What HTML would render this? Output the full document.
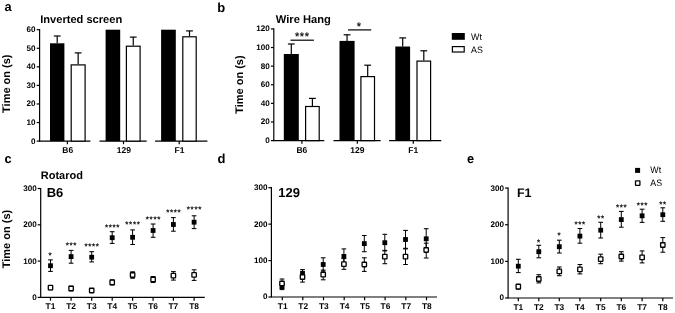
<!DOCTYPE html>
<html><head><meta charset="utf-8"><title>Figure</title>
<style>
html,body{margin:0;padding:0;background:#fff;}
svg{display:block;font-family:"Liberation Sans",Arial,sans-serif;fill:#000;text-rendering:geometricPrecision;}
</style></head>
<body>
<svg width="675" height="313" viewBox="0 0 675 313">
<rect x="0" y="0" width="675" height="313" fill="#fff"/>
<text x="4.60" y="11.20" font-size="12.8" font-weight="bold" text-anchor="start">a</text>
<text x="217.30" y="11.50" font-size="13" font-weight="bold" text-anchor="start">b</text>
<text x="4.60" y="163.00" font-size="12.8" font-weight="bold" text-anchor="start">c</text>
<text x="217.50" y="163.00" font-size="13" font-weight="bold" text-anchor="start">d</text>
<text x="466.90" y="162.90" font-size="12.8" font-weight="bold" text-anchor="start">e</text>
<text x="40.20" y="22.60" font-size="11.1" font-weight="bold" text-anchor="start">Inverted screen</text>
<line x1="39.60" y1="29.10" x2="39.60" y2="141.70" stroke="#000" stroke-width="1.2"/>
<line x1="36.70" y1="141.10" x2="39.60" y2="141.10" stroke="#000" stroke-width="1.2"/>
<text x="35.50" y="143.60" font-size="8.1" font-weight="bold" text-anchor="end">0</text>
<line x1="36.70" y1="122.53" x2="39.60" y2="122.53" stroke="#000" stroke-width="1.2"/>
<text x="35.50" y="125.03" font-size="8.1" font-weight="bold" text-anchor="end">10</text>
<line x1="36.70" y1="103.97" x2="39.60" y2="103.97" stroke="#000" stroke-width="1.2"/>
<text x="35.50" y="106.47" font-size="8.1" font-weight="bold" text-anchor="end">20</text>
<line x1="36.70" y1="85.40" x2="39.60" y2="85.40" stroke="#000" stroke-width="1.2"/>
<text x="35.50" y="87.90" font-size="8.1" font-weight="bold" text-anchor="end">30</text>
<line x1="36.70" y1="66.83" x2="39.60" y2="66.83" stroke="#000" stroke-width="1.2"/>
<text x="35.50" y="69.33" font-size="8.1" font-weight="bold" text-anchor="end">40</text>
<line x1="36.70" y1="48.27" x2="39.60" y2="48.27" stroke="#000" stroke-width="1.2"/>
<text x="35.50" y="50.77" font-size="8.1" font-weight="bold" text-anchor="end">50</text>
<line x1="36.70" y1="29.70" x2="39.60" y2="29.70" stroke="#000" stroke-width="1.2"/>
<text x="35.50" y="32.20" font-size="8.1" font-weight="bold" text-anchor="end">60</text>
<text x="10.30" y="83.70" font-size="11" font-weight="bold" text-anchor="middle" transform="rotate(-90 10.3 83.7)">Time on (s)</text>
<line x1="39.60" y1="141.10" x2="90.40" y2="141.10" stroke="#000" stroke-width="1.2"/>
<line x1="67.40" y1="141.10" x2="67.40" y2="144.20" stroke="#000" stroke-width="1.2"/>
<text x="67.70" y="153.20" font-size="8.5" font-weight="bold" text-anchor="middle">B6</text>
<line x1="99.50" y1="141.10" x2="146.70" y2="141.10" stroke="#000" stroke-width="1.2"/>
<line x1="123.50" y1="141.10" x2="123.50" y2="144.20" stroke="#000" stroke-width="1.2"/>
<text x="123.80" y="153.20" font-size="8.5" font-weight="bold" text-anchor="middle">129</text>
<line x1="155.10" y1="141.10" x2="207.40" y2="141.10" stroke="#000" stroke-width="1.2"/>
<line x1="179.20" y1="141.10" x2="179.20" y2="144.20" stroke="#000" stroke-width="1.2"/>
<text x="179.50" y="153.20" font-size="8.5" font-weight="bold" text-anchor="middle">F1</text>
<line x1="57.20" y1="36.00" x2="57.20" y2="43.30" stroke="#000" stroke-width="1.2"/>
<line x1="53.80" y1="36.00" x2="60.60" y2="36.00" stroke="#000" stroke-width="1.2"/>
<rect x="50.00" y="43.30" width="14.40" height="97.80" fill="#000"/>
<line x1="78.15" y1="52.90" x2="78.15" y2="64.30" stroke="#000" stroke-width="1.2"/>
<line x1="74.75" y1="52.90" x2="81.55" y2="52.90" stroke="#000" stroke-width="1.2"/>
<rect x="71.20" y="64.90" width="13.90" height="76.20" fill="#fff" stroke="#000" stroke-width="1.2"/>
<rect x="105.60" y="29.70" width="14.60" height="111.40" fill="#000"/>
<line x1="133.25" y1="37.10" x2="133.25" y2="45.60" stroke="#000" stroke-width="1.2"/>
<line x1="129.85" y1="37.10" x2="136.65" y2="37.10" stroke="#000" stroke-width="1.2"/>
<rect x="126.40" y="46.20" width="13.70" height="94.90" fill="#fff" stroke="#000" stroke-width="1.2"/>
<rect x="161.10" y="29.70" width="14.70" height="111.40" fill="#000"/>
<line x1="189.50" y1="30.90" x2="189.50" y2="36.20" stroke="#000" stroke-width="1.2"/>
<line x1="186.10" y1="30.90" x2="192.90" y2="30.90" stroke="#000" stroke-width="1.2"/>
<rect x="182.80" y="36.80" width="13.40" height="104.30" fill="#fff" stroke="#000" stroke-width="1.2"/>
<text x="275.80" y="22.60" font-size="11.15" font-weight="bold" text-anchor="start">Wire Hang</text>
<line x1="273.80" y1="28.30" x2="273.80" y2="141.20" stroke="#000" stroke-width="1.2"/>
<line x1="270.90" y1="140.60" x2="273.80" y2="140.60" stroke="#000" stroke-width="1.2"/>
<text x="269.70" y="143.10" font-size="8.1" font-weight="bold" text-anchor="end">0</text>
<line x1="270.90" y1="121.98" x2="273.80" y2="121.98" stroke="#000" stroke-width="1.2"/>
<text x="269.70" y="124.48" font-size="8.1" font-weight="bold" text-anchor="end">20</text>
<line x1="270.90" y1="103.37" x2="273.80" y2="103.37" stroke="#000" stroke-width="1.2"/>
<text x="269.70" y="105.87" font-size="8.1" font-weight="bold" text-anchor="end">40</text>
<line x1="270.90" y1="84.75" x2="273.80" y2="84.75" stroke="#000" stroke-width="1.2"/>
<text x="269.70" y="87.25" font-size="8.1" font-weight="bold" text-anchor="end">60</text>
<line x1="270.90" y1="66.13" x2="273.80" y2="66.13" stroke="#000" stroke-width="1.2"/>
<text x="269.70" y="68.63" font-size="8.1" font-weight="bold" text-anchor="end">80</text>
<line x1="270.90" y1="47.52" x2="273.80" y2="47.52" stroke="#000" stroke-width="1.2"/>
<text x="269.70" y="50.02" font-size="8.1" font-weight="bold" text-anchor="end">100</text>
<line x1="270.90" y1="28.90" x2="273.80" y2="28.90" stroke="#000" stroke-width="1.2"/>
<text x="269.70" y="31.40" font-size="8.1" font-weight="bold" text-anchor="end">120</text>
<text x="242.80" y="84.60" font-size="11" font-weight="bold" text-anchor="middle" transform="rotate(-90 242.8 84.6)">Time on (s)</text>
<line x1="273.80" y1="140.60" x2="324.30" y2="140.60" stroke="#000" stroke-width="1.2"/>
<line x1="301.90" y1="140.60" x2="301.90" y2="143.70" stroke="#000" stroke-width="1.2"/>
<text x="301.90" y="153.20" font-size="8.5" font-weight="bold" text-anchor="middle">B6</text>
<line x1="333.50" y1="140.60" x2="380.70" y2="140.60" stroke="#000" stroke-width="1.2"/>
<line x1="357.30" y1="140.60" x2="357.30" y2="143.70" stroke="#000" stroke-width="1.2"/>
<text x="357.30" y="153.20" font-size="8.5" font-weight="bold" text-anchor="middle">129</text>
<line x1="389.10" y1="140.60" x2="441.20" y2="140.60" stroke="#000" stroke-width="1.2"/>
<line x1="413.30" y1="140.60" x2="413.30" y2="143.70" stroke="#000" stroke-width="1.2"/>
<text x="413.30" y="153.20" font-size="8.5" font-weight="bold" text-anchor="middle">F1</text>
<line x1="291.30" y1="44.00" x2="291.30" y2="54.00" stroke="#000" stroke-width="1.2"/>
<line x1="287.90" y1="44.00" x2="294.70" y2="44.00" stroke="#000" stroke-width="1.2"/>
<rect x="283.80" y="54.00" width="15.00" height="86.60" fill="#000"/>
<line x1="312.40" y1="98.40" x2="312.40" y2="105.90" stroke="#000" stroke-width="1.2"/>
<line x1="309.00" y1="98.40" x2="315.80" y2="98.40" stroke="#000" stroke-width="1.2"/>
<rect x="305.60" y="106.50" width="13.60" height="34.10" fill="#fff" stroke="#000" stroke-width="1.2"/>
<line x1="347.05" y1="34.80" x2="347.05" y2="40.90" stroke="#000" stroke-width="1.2"/>
<line x1="343.65" y1="34.80" x2="350.45" y2="34.80" stroke="#000" stroke-width="1.2"/>
<rect x="339.50" y="40.90" width="15.10" height="99.70" fill="#000"/>
<line x1="367.70" y1="65.20" x2="367.70" y2="76.00" stroke="#000" stroke-width="1.2"/>
<line x1="364.30" y1="65.20" x2="371.10" y2="65.20" stroke="#000" stroke-width="1.2"/>
<rect x="360.90" y="76.60" width="13.60" height="64.00" fill="#fff" stroke="#000" stroke-width="1.2"/>
<line x1="402.70" y1="37.90" x2="402.70" y2="46.50" stroke="#000" stroke-width="1.2"/>
<line x1="399.30" y1="37.90" x2="406.10" y2="37.90" stroke="#000" stroke-width="1.2"/>
<rect x="395.30" y="46.50" width="14.80" height="94.10" fill="#000"/>
<line x1="423.80" y1="50.80" x2="423.80" y2="60.50" stroke="#000" stroke-width="1.2"/>
<line x1="420.40" y1="50.80" x2="427.20" y2="50.80" stroke="#000" stroke-width="1.2"/>
<rect x="417.00" y="61.10" width="13.60" height="79.50" fill="#fff" stroke="#000" stroke-width="1.2"/>
<line x1="290.50" y1="40.20" x2="313.90" y2="40.20" stroke="#000" stroke-width="1.2"/>
<text x="302.30" y="39.80" font-size="11" text-anchor="middle" letter-spacing="0.6" stroke="#000" stroke-width="0.2">***</text>
<line x1="348.10" y1="29.90" x2="371.20" y2="29.90" stroke="#000" stroke-width="1.2"/>
<text x="358.90" y="29.50" font-size="11" text-anchor="middle" stroke="#000" stroke-width="0.2">*</text>
<rect x="451.80" y="33.00" width="13.00" height="6.80" fill="#000"/>
<rect x="452.40" y="46.60" width="11.80" height="5.40" fill="#fff" stroke="#000" stroke-width="1.2"/>
<text transform="translate(471.1,39.9) scale(0.95,1)" font-size="9.3">Wt</text>
<text transform="translate(471.1,52.6) scale(0.95,1)" font-size="9.3">AS</text>
<line x1="40.70" y1="187.90" x2="40.70" y2="298.00" stroke="#000" stroke-width="1.2"/>
<line x1="40.70" y1="297.40" x2="204.80" y2="297.40" stroke="#000" stroke-width="1.2"/>
<line x1="37.70" y1="297.40" x2="40.70" y2="297.40" stroke="#000" stroke-width="1.2"/>
<text x="36.70" y="299.80" font-size="8.1" font-weight="bold" text-anchor="end">0</text>
<line x1="37.70" y1="261.10" x2="40.70" y2="261.10" stroke="#000" stroke-width="1.2"/>
<text x="36.70" y="263.50" font-size="8.1" font-weight="bold" text-anchor="end">100</text>
<line x1="37.70" y1="224.80" x2="40.70" y2="224.80" stroke="#000" stroke-width="1.2"/>
<text x="36.70" y="227.20" font-size="8.1" font-weight="bold" text-anchor="end">200</text>
<line x1="37.70" y1="188.50" x2="40.70" y2="188.50" stroke="#000" stroke-width="1.2"/>
<text x="36.70" y="190.90" font-size="8.1" font-weight="bold" text-anchor="end">300</text>
<line x1="50.50" y1="297.40" x2="50.50" y2="300.70" stroke="#000" stroke-width="1.2"/>
<text x="50.50" y="309.30" font-size="8.4" font-weight="bold" text-anchor="middle">T1</text>
<line x1="71.10" y1="297.40" x2="71.10" y2="300.70" stroke="#000" stroke-width="1.2"/>
<text x="71.10" y="309.30" font-size="8.4" font-weight="bold" text-anchor="middle">T2</text>
<line x1="91.70" y1="297.40" x2="91.70" y2="300.70" stroke="#000" stroke-width="1.2"/>
<text x="91.70" y="309.30" font-size="8.4" font-weight="bold" text-anchor="middle">T3</text>
<line x1="112.20" y1="297.40" x2="112.20" y2="300.70" stroke="#000" stroke-width="1.2"/>
<text x="112.20" y="309.30" font-size="8.4" font-weight="bold" text-anchor="middle">T4</text>
<line x1="132.60" y1="297.40" x2="132.60" y2="300.70" stroke="#000" stroke-width="1.2"/>
<text x="132.60" y="309.30" font-size="8.4" font-weight="bold" text-anchor="middle">T5</text>
<line x1="153.10" y1="297.40" x2="153.10" y2="300.70" stroke="#000" stroke-width="1.2"/>
<text x="153.10" y="309.30" font-size="8.4" font-weight="bold" text-anchor="middle">T6</text>
<line x1="173.40" y1="297.40" x2="173.40" y2="300.70" stroke="#000" stroke-width="1.2"/>
<text x="173.40" y="309.30" font-size="8.4" font-weight="bold" text-anchor="middle">T7</text>
<line x1="194.10" y1="297.40" x2="194.10" y2="300.70" stroke="#000" stroke-width="1.2"/>
<text x="194.10" y="309.30" font-size="8.4" font-weight="bold" text-anchor="middle">T8</text>
<text x="46.70" y="196.80" font-size="13" font-weight="bold" text-anchor="start">B6</text>
<text x="40.80" y="178.70" font-size="11" font-weight="bold" text-anchor="start">Rotarod</text>
<text x="10.10" y="239.00" font-size="11" font-weight="bold" text-anchor="middle" transform="rotate(-90 10.1 239)">Time on (s)</text>
<line x1="50.50" y1="259.90" x2="50.50" y2="271.40" stroke="#000" stroke-width="1.0"/>
<line x1="48.15" y1="259.90" x2="52.85" y2="259.90" stroke="#000" stroke-width="1.05"/>
<line x1="48.15" y1="271.40" x2="52.85" y2="271.40" stroke="#000" stroke-width="1.05"/>
<rect x="48.10" y="263.30" width="4.80" height="4.80" fill="#000"/>
<line x1="71.10" y1="250.40" x2="71.10" y2="263.20" stroke="#000" stroke-width="1.0"/>
<line x1="68.75" y1="250.40" x2="73.45" y2="250.40" stroke="#000" stroke-width="1.05"/>
<line x1="68.75" y1="263.20" x2="73.45" y2="263.20" stroke="#000" stroke-width="1.05"/>
<rect x="68.70" y="254.20" width="4.80" height="4.80" fill="#000"/>
<line x1="91.70" y1="251.70" x2="91.70" y2="261.90" stroke="#000" stroke-width="1.0"/>
<line x1="89.35" y1="251.70" x2="94.05" y2="251.70" stroke="#000" stroke-width="1.05"/>
<line x1="89.35" y1="261.90" x2="94.05" y2="261.90" stroke="#000" stroke-width="1.05"/>
<rect x="89.30" y="254.80" width="4.80" height="4.80" fill="#000"/>
<line x1="112.20" y1="231.70" x2="112.20" y2="243.40" stroke="#000" stroke-width="1.0"/>
<line x1="109.85" y1="231.70" x2="114.55" y2="231.70" stroke="#000" stroke-width="1.05"/>
<line x1="109.85" y1="243.40" x2="114.55" y2="243.40" stroke="#000" stroke-width="1.05"/>
<rect x="109.80" y="235.30" width="4.80" height="4.80" fill="#000"/>
<line x1="132.60" y1="229.90" x2="132.60" y2="244.50" stroke="#000" stroke-width="1.0"/>
<line x1="130.25" y1="229.90" x2="134.95" y2="229.90" stroke="#000" stroke-width="1.05"/>
<line x1="130.25" y1="244.50" x2="134.95" y2="244.50" stroke="#000" stroke-width="1.05"/>
<rect x="130.20" y="234.90" width="4.80" height="4.80" fill="#000"/>
<line x1="153.10" y1="224.00" x2="153.10" y2="237.30" stroke="#000" stroke-width="1.0"/>
<line x1="150.75" y1="224.00" x2="155.45" y2="224.00" stroke="#000" stroke-width="1.05"/>
<line x1="150.75" y1="237.30" x2="155.45" y2="237.30" stroke="#000" stroke-width="1.05"/>
<rect x="150.70" y="228.10" width="4.80" height="4.80" fill="#000"/>
<line x1="173.40" y1="217.60" x2="173.40" y2="231.20" stroke="#000" stroke-width="1.0"/>
<line x1="171.05" y1="217.60" x2="175.75" y2="217.60" stroke="#000" stroke-width="1.05"/>
<line x1="171.05" y1="231.20" x2="175.75" y2="231.20" stroke="#000" stroke-width="1.05"/>
<rect x="171.00" y="222.10" width="4.80" height="4.80" fill="#000"/>
<line x1="194.10" y1="215.80" x2="194.10" y2="228.60" stroke="#000" stroke-width="1.0"/>
<line x1="191.75" y1="215.80" x2="196.45" y2="215.80" stroke="#000" stroke-width="1.05"/>
<line x1="191.75" y1="228.60" x2="196.45" y2="228.60" stroke="#000" stroke-width="1.05"/>
<rect x="191.70" y="219.80" width="4.80" height="4.80" fill="#000"/>
<line x1="50.50" y1="285.70" x2="50.50" y2="289.70" stroke="#000" stroke-width="1.0"/>
<line x1="48.15" y1="285.70" x2="52.85" y2="285.70" stroke="#000" stroke-width="1.05"/>
<line x1="48.15" y1="289.70" x2="52.85" y2="289.70" stroke="#000" stroke-width="1.05"/>
<rect x="48.30" y="285.45" width="4.4" height="4.5" rx="0.4" fill="#fff" stroke="#000" stroke-width="1.3"/>
<line x1="71.10" y1="286.30" x2="71.10" y2="290.70" stroke="#000" stroke-width="1.0"/>
<line x1="68.75" y1="286.30" x2="73.45" y2="286.30" stroke="#000" stroke-width="1.05"/>
<line x1="68.75" y1="290.70" x2="73.45" y2="290.70" stroke="#000" stroke-width="1.05"/>
<rect x="68.90" y="286.25" width="4.4" height="4.5" rx="0.4" fill="#fff" stroke="#000" stroke-width="1.3"/>
<line x1="91.70" y1="289.50" x2="91.70" y2="291.50" stroke="#000" stroke-width="1.0"/>
<line x1="89.35" y1="289.50" x2="94.05" y2="289.50" stroke="#000" stroke-width="1.05"/>
<line x1="89.35" y1="291.50" x2="94.05" y2="291.50" stroke="#000" stroke-width="1.05"/>
<rect x="89.50" y="288.25" width="4.4" height="4.5" rx="0.4" fill="#fff" stroke="#000" stroke-width="1.3"/>
<line x1="112.20" y1="279.80" x2="112.20" y2="285.00" stroke="#000" stroke-width="1.0"/>
<line x1="109.85" y1="279.80" x2="114.55" y2="279.80" stroke="#000" stroke-width="1.05"/>
<line x1="109.85" y1="285.00" x2="114.55" y2="285.00" stroke="#000" stroke-width="1.05"/>
<rect x="110.00" y="280.15" width="4.4" height="4.5" rx="0.4" fill="#fff" stroke="#000" stroke-width="1.3"/>
<line x1="132.60" y1="271.80" x2="132.60" y2="278.20" stroke="#000" stroke-width="1.0"/>
<line x1="130.25" y1="271.80" x2="134.95" y2="271.80" stroke="#000" stroke-width="1.05"/>
<line x1="130.25" y1="278.20" x2="134.95" y2="278.20" stroke="#000" stroke-width="1.05"/>
<rect x="130.40" y="272.75" width="4.4" height="4.5" rx="0.4" fill="#fff" stroke="#000" stroke-width="1.3"/>
<line x1="153.10" y1="276.50" x2="153.10" y2="282.50" stroke="#000" stroke-width="1.0"/>
<line x1="150.75" y1="276.50" x2="155.45" y2="276.50" stroke="#000" stroke-width="1.05"/>
<line x1="150.75" y1="282.50" x2="155.45" y2="282.50" stroke="#000" stroke-width="1.05"/>
<rect x="150.90" y="277.25" width="4.4" height="4.5" rx="0.4" fill="#fff" stroke="#000" stroke-width="1.3"/>
<line x1="173.40" y1="271.60" x2="173.40" y2="280.10" stroke="#000" stroke-width="1.0"/>
<line x1="171.05" y1="271.60" x2="175.75" y2="271.60" stroke="#000" stroke-width="1.05"/>
<line x1="171.05" y1="280.10" x2="175.75" y2="280.10" stroke="#000" stroke-width="1.05"/>
<rect x="171.20" y="273.45" width="4.4" height="4.5" rx="0.4" fill="#fff" stroke="#000" stroke-width="1.3"/>
<line x1="194.10" y1="269.80" x2="194.10" y2="280.40" stroke="#000" stroke-width="1.0"/>
<line x1="191.75" y1="269.80" x2="196.45" y2="269.80" stroke="#000" stroke-width="1.05"/>
<line x1="191.75" y1="280.40" x2="196.45" y2="280.40" stroke="#000" stroke-width="1.05"/>
<rect x="191.90" y="272.65" width="4.4" height="4.5" rx="0.4" fill="#fff" stroke="#000" stroke-width="1.3"/>
<text x="50.50" y="258.40" font-size="8" text-anchor="middle" letter-spacing="0.65" stroke="#000" stroke-width="0.25">*</text>
<text x="71.40" y="248.10" font-size="8" text-anchor="middle" letter-spacing="0.65" stroke="#000" stroke-width="0.25">***</text>
<text x="92.00" y="248.90" font-size="8" text-anchor="middle" letter-spacing="0.65" stroke="#000" stroke-width="0.25">****</text>
<text x="112.50" y="230.20" font-size="8" text-anchor="middle" letter-spacing="0.65" stroke="#000" stroke-width="0.25">****</text>
<text x="132.90" y="227.40" font-size="8" text-anchor="middle" letter-spacing="0.65" stroke="#000" stroke-width="0.25">****</text>
<text x="153.40" y="221.60" font-size="8" text-anchor="middle" letter-spacing="0.65" stroke="#000" stroke-width="0.25">****</text>
<text x="173.70" y="214.70" font-size="8" text-anchor="middle" letter-spacing="0.65" stroke="#000" stroke-width="0.25">****</text>
<text x="194.40" y="211.70" font-size="8" text-anchor="middle" letter-spacing="0.65" stroke="#000" stroke-width="0.25">****</text>
<line x1="271.40" y1="187.10" x2="271.40" y2="297.60" stroke="#000" stroke-width="1.2"/>
<line x1="271.40" y1="297.00" x2="437.00" y2="297.00" stroke="#000" stroke-width="1.2"/>
<line x1="268.40" y1="297.00" x2="271.40" y2="297.00" stroke="#000" stroke-width="1.2"/>
<text x="267.40" y="299.40" font-size="8.1" font-weight="bold" text-anchor="end">0</text>
<line x1="268.40" y1="260.57" x2="271.40" y2="260.57" stroke="#000" stroke-width="1.2"/>
<text x="267.40" y="262.97" font-size="8.1" font-weight="bold" text-anchor="end">100</text>
<line x1="268.40" y1="224.13" x2="271.40" y2="224.13" stroke="#000" stroke-width="1.2"/>
<text x="267.40" y="226.53" font-size="8.1" font-weight="bold" text-anchor="end">200</text>
<line x1="268.40" y1="187.70" x2="271.40" y2="187.70" stroke="#000" stroke-width="1.2"/>
<text x="267.40" y="190.10" font-size="8.1" font-weight="bold" text-anchor="end">300</text>
<line x1="282.30" y1="297.00" x2="282.30" y2="300.30" stroke="#000" stroke-width="1.2"/>
<text x="282.70" y="308.90" font-size="8.4" font-weight="bold" text-anchor="middle">T1</text>
<line x1="302.80" y1="297.00" x2="302.80" y2="300.30" stroke="#000" stroke-width="1.2"/>
<text x="303.20" y="308.90" font-size="8.4" font-weight="bold" text-anchor="middle">T2</text>
<line x1="323.50" y1="297.00" x2="323.50" y2="300.30" stroke="#000" stroke-width="1.2"/>
<text x="323.90" y="308.90" font-size="8.4" font-weight="bold" text-anchor="middle">T3</text>
<line x1="344.20" y1="297.00" x2="344.20" y2="300.30" stroke="#000" stroke-width="1.2"/>
<text x="344.60" y="308.90" font-size="8.4" font-weight="bold" text-anchor="middle">T4</text>
<line x1="364.60" y1="297.00" x2="364.60" y2="300.30" stroke="#000" stroke-width="1.2"/>
<text x="365.00" y="308.90" font-size="8.4" font-weight="bold" text-anchor="middle">T5</text>
<line x1="385.10" y1="297.00" x2="385.10" y2="300.30" stroke="#000" stroke-width="1.2"/>
<text x="385.50" y="308.90" font-size="8.4" font-weight="bold" text-anchor="middle">T6</text>
<line x1="405.80" y1="297.00" x2="405.80" y2="300.30" stroke="#000" stroke-width="1.2"/>
<text x="406.20" y="308.90" font-size="8.4" font-weight="bold" text-anchor="middle">T7</text>
<line x1="426.50" y1="297.00" x2="426.50" y2="300.30" stroke="#000" stroke-width="1.2"/>
<text x="426.90" y="308.90" font-size="8.4" font-weight="bold" text-anchor="middle">T8</text>
<text x="278.30" y="196.80" font-size="13" font-weight="bold" text-anchor="start">129</text>
<line x1="282.00" y1="283.60" x2="282.00" y2="289.60" stroke="#000" stroke-width="1.0"/>
<line x1="279.65" y1="283.60" x2="284.35" y2="283.60" stroke="#000" stroke-width="1.05"/>
<line x1="279.65" y1="289.60" x2="284.35" y2="289.60" stroke="#000" stroke-width="1.05"/>
<rect x="279.60" y="284.20" width="4.80" height="4.80" fill="#000"/>
<line x1="302.50" y1="269.60" x2="302.50" y2="278.20" stroke="#000" stroke-width="1.0"/>
<line x1="300.15" y1="269.60" x2="304.85" y2="269.60" stroke="#000" stroke-width="1.05"/>
<line x1="300.15" y1="278.20" x2="304.85" y2="278.20" stroke="#000" stroke-width="1.05"/>
<rect x="300.10" y="271.50" width="4.80" height="4.80" fill="#000"/>
<line x1="323.20" y1="257.80" x2="323.20" y2="271.20" stroke="#000" stroke-width="1.0"/>
<line x1="320.85" y1="257.80" x2="325.55" y2="257.80" stroke="#000" stroke-width="1.05"/>
<line x1="320.85" y1="271.20" x2="325.55" y2="271.20" stroke="#000" stroke-width="1.05"/>
<rect x="320.80" y="262.10" width="4.80" height="4.80" fill="#000"/>
<line x1="343.90" y1="248.90" x2="343.90" y2="263.90" stroke="#000" stroke-width="1.0"/>
<line x1="341.55" y1="248.90" x2="346.25" y2="248.90" stroke="#000" stroke-width="1.05"/>
<line x1="341.55" y1="263.90" x2="346.25" y2="263.90" stroke="#000" stroke-width="1.05"/>
<rect x="341.50" y="254.00" width="4.80" height="4.80" fill="#000"/>
<line x1="364.30" y1="235.50" x2="364.30" y2="251.70" stroke="#000" stroke-width="1.0"/>
<line x1="361.95" y1="235.50" x2="366.65" y2="235.50" stroke="#000" stroke-width="1.05"/>
<line x1="361.95" y1="251.70" x2="366.65" y2="251.70" stroke="#000" stroke-width="1.05"/>
<rect x="361.90" y="241.20" width="4.80" height="4.80" fill="#000"/>
<line x1="384.80" y1="234.30" x2="384.80" y2="250.90" stroke="#000" stroke-width="1.0"/>
<line x1="382.45" y1="234.30" x2="387.15" y2="234.30" stroke="#000" stroke-width="1.05"/>
<line x1="382.45" y1="250.90" x2="387.15" y2="250.90" stroke="#000" stroke-width="1.05"/>
<rect x="382.40" y="240.30" width="4.80" height="4.80" fill="#000"/>
<line x1="405.50" y1="230.40" x2="405.50" y2="248.30" stroke="#000" stroke-width="1.0"/>
<line x1="403.15" y1="230.40" x2="407.85" y2="230.40" stroke="#000" stroke-width="1.05"/>
<line x1="403.15" y1="248.30" x2="407.85" y2="248.30" stroke="#000" stroke-width="1.05"/>
<rect x="403.10" y="237.10" width="4.80" height="4.80" fill="#000"/>
<line x1="426.20" y1="228.70" x2="426.20" y2="248.90" stroke="#000" stroke-width="1.0"/>
<line x1="423.85" y1="228.70" x2="428.55" y2="228.70" stroke="#000" stroke-width="1.05"/>
<line x1="423.85" y1="248.90" x2="428.55" y2="248.90" stroke="#000" stroke-width="1.05"/>
<rect x="423.80" y="236.40" width="4.80" height="4.80" fill="#000"/>
<line x1="282.00" y1="279.00" x2="282.00" y2="288.00" stroke="#000" stroke-width="1.0"/>
<line x1="279.65" y1="279.00" x2="284.35" y2="279.00" stroke="#000" stroke-width="1.05"/>
<line x1="279.65" y1="288.00" x2="284.35" y2="288.00" stroke="#000" stroke-width="1.05"/>
<rect x="279.80" y="281.25" width="4.4" height="4.5" rx="0.4" fill="#fff" stroke="#000" stroke-width="1.3"/>
<line x1="302.50" y1="271.40" x2="302.50" y2="282.10" stroke="#000" stroke-width="1.0"/>
<line x1="300.15" y1="271.40" x2="304.85" y2="271.40" stroke="#000" stroke-width="1.05"/>
<line x1="300.15" y1="282.10" x2="304.85" y2="282.10" stroke="#000" stroke-width="1.05"/>
<rect x="300.30" y="274.75" width="4.4" height="4.5" rx="0.4" fill="#fff" stroke="#000" stroke-width="1.3"/>
<line x1="323.20" y1="270.10" x2="323.20" y2="279.80" stroke="#000" stroke-width="1.0"/>
<line x1="320.85" y1="270.10" x2="325.55" y2="270.10" stroke="#000" stroke-width="1.05"/>
<line x1="320.85" y1="279.80" x2="325.55" y2="279.80" stroke="#000" stroke-width="1.05"/>
<rect x="321.00" y="272.45" width="4.4" height="4.5" rx="0.4" fill="#fff" stroke="#000" stroke-width="1.3"/>
<line x1="343.90" y1="258.60" x2="343.90" y2="269.30" stroke="#000" stroke-width="1.0"/>
<line x1="341.55" y1="258.60" x2="346.25" y2="258.60" stroke="#000" stroke-width="1.05"/>
<line x1="341.55" y1="269.30" x2="346.25" y2="269.30" stroke="#000" stroke-width="1.05"/>
<rect x="341.70" y="261.95" width="4.4" height="4.5" rx="0.4" fill="#fff" stroke="#000" stroke-width="1.3"/>
<line x1="364.30" y1="257.80" x2="364.30" y2="271.40" stroke="#000" stroke-width="1.0"/>
<line x1="361.95" y1="257.80" x2="366.65" y2="257.80" stroke="#000" stroke-width="1.05"/>
<line x1="361.95" y1="271.40" x2="366.65" y2="271.40" stroke="#000" stroke-width="1.05"/>
<rect x="362.10" y="262.25" width="4.4" height="4.5" rx="0.4" fill="#fff" stroke="#000" stroke-width="1.3"/>
<line x1="384.80" y1="250.40" x2="384.80" y2="263.70" stroke="#000" stroke-width="1.0"/>
<line x1="382.45" y1="250.40" x2="387.15" y2="250.40" stroke="#000" stroke-width="1.05"/>
<line x1="382.45" y1="263.70" x2="387.15" y2="263.70" stroke="#000" stroke-width="1.05"/>
<rect x="382.60" y="254.35" width="4.4" height="4.5" rx="0.4" fill="#fff" stroke="#000" stroke-width="1.3"/>
<line x1="405.50" y1="248.90" x2="405.50" y2="264.50" stroke="#000" stroke-width="1.0"/>
<line x1="403.15" y1="248.90" x2="407.85" y2="248.90" stroke="#000" stroke-width="1.05"/>
<line x1="403.15" y1="264.50" x2="407.85" y2="264.50" stroke="#000" stroke-width="1.05"/>
<rect x="403.30" y="254.35" width="4.4" height="4.5" rx="0.4" fill="#fff" stroke="#000" stroke-width="1.3"/>
<line x1="426.20" y1="243.20" x2="426.20" y2="258.00" stroke="#000" stroke-width="1.0"/>
<line x1="423.85" y1="243.20" x2="428.55" y2="243.20" stroke="#000" stroke-width="1.05"/>
<line x1="423.85" y1="258.00" x2="428.55" y2="258.00" stroke="#000" stroke-width="1.05"/>
<rect x="424.00" y="247.75" width="4.4" height="4.5" rx="0.4" fill="#fff" stroke="#000" stroke-width="1.3"/>
<line x1="508.10" y1="187.50" x2="508.10" y2="298.60" stroke="#000" stroke-width="1.2"/>
<line x1="508.10" y1="298.00" x2="673.00" y2="298.00" stroke="#000" stroke-width="1.2"/>
<line x1="505.10" y1="298.00" x2="508.10" y2="298.00" stroke="#000" stroke-width="1.2"/>
<text x="504.10" y="300.40" font-size="8.1" font-weight="bold" text-anchor="end">0</text>
<line x1="505.10" y1="261.37" x2="508.10" y2="261.37" stroke="#000" stroke-width="1.2"/>
<text x="504.10" y="263.77" font-size="8.1" font-weight="bold" text-anchor="end">100</text>
<line x1="505.10" y1="224.73" x2="508.10" y2="224.73" stroke="#000" stroke-width="1.2"/>
<text x="504.10" y="227.13" font-size="8.1" font-weight="bold" text-anchor="end">200</text>
<line x1="505.10" y1="188.10" x2="508.10" y2="188.10" stroke="#000" stroke-width="1.2"/>
<text x="504.10" y="190.50" font-size="8.1" font-weight="bold" text-anchor="end">300</text>
<line x1="518.30" y1="298.00" x2="518.30" y2="301.30" stroke="#000" stroke-width="1.2"/>
<text x="518.30" y="310.20" font-size="8.4" font-weight="bold" text-anchor="middle">T1</text>
<line x1="538.80" y1="298.00" x2="538.80" y2="301.30" stroke="#000" stroke-width="1.2"/>
<text x="538.80" y="310.20" font-size="8.4" font-weight="bold" text-anchor="middle">T2</text>
<line x1="559.30" y1="298.00" x2="559.30" y2="301.30" stroke="#000" stroke-width="1.2"/>
<text x="559.30" y="310.20" font-size="8.4" font-weight="bold" text-anchor="middle">T3</text>
<line x1="579.90" y1="298.00" x2="579.90" y2="301.30" stroke="#000" stroke-width="1.2"/>
<text x="579.90" y="310.20" font-size="8.4" font-weight="bold" text-anchor="middle">T4</text>
<line x1="600.70" y1="298.00" x2="600.70" y2="301.30" stroke="#000" stroke-width="1.2"/>
<text x="600.70" y="310.20" font-size="8.4" font-weight="bold" text-anchor="middle">T5</text>
<line x1="621.30" y1="298.00" x2="621.30" y2="301.30" stroke="#000" stroke-width="1.2"/>
<text x="621.30" y="310.20" font-size="8.4" font-weight="bold" text-anchor="middle">T6</text>
<line x1="642.10" y1="298.00" x2="642.10" y2="301.30" stroke="#000" stroke-width="1.2"/>
<text x="642.10" y="310.20" font-size="8.4" font-weight="bold" text-anchor="middle">T7</text>
<line x1="662.80" y1="298.00" x2="662.80" y2="301.30" stroke="#000" stroke-width="1.2"/>
<text x="662.80" y="310.20" font-size="8.4" font-weight="bold" text-anchor="middle">T8</text>
<text x="516.90" y="196.80" font-size="12.5" font-weight="bold" text-anchor="start">F1</text>
<line x1="518.30" y1="259.30" x2="518.30" y2="272.60" stroke="#000" stroke-width="1.0"/>
<line x1="515.95" y1="259.30" x2="520.65" y2="259.30" stroke="#000" stroke-width="1.05"/>
<line x1="515.95" y1="272.60" x2="520.65" y2="272.60" stroke="#000" stroke-width="1.05"/>
<rect x="515.90" y="263.80" width="4.80" height="4.80" fill="#000"/>
<line x1="538.80" y1="245.30" x2="538.80" y2="257.80" stroke="#000" stroke-width="1.0"/>
<line x1="536.45" y1="245.30" x2="541.15" y2="245.30" stroke="#000" stroke-width="1.05"/>
<line x1="536.45" y1="257.80" x2="541.15" y2="257.80" stroke="#000" stroke-width="1.05"/>
<rect x="536.40" y="249.30" width="4.80" height="4.80" fill="#000"/>
<line x1="559.30" y1="240.20" x2="559.30" y2="253.00" stroke="#000" stroke-width="1.0"/>
<line x1="556.95" y1="240.20" x2="561.65" y2="240.20" stroke="#000" stroke-width="1.05"/>
<line x1="556.95" y1="253.00" x2="561.65" y2="253.00" stroke="#000" stroke-width="1.05"/>
<rect x="556.90" y="244.30" width="4.80" height="4.80" fill="#000"/>
<line x1="579.90" y1="228.50" x2="579.90" y2="243.20" stroke="#000" stroke-width="1.0"/>
<line x1="577.55" y1="228.50" x2="582.25" y2="228.50" stroke="#000" stroke-width="1.05"/>
<line x1="577.55" y1="243.20" x2="582.25" y2="243.20" stroke="#000" stroke-width="1.05"/>
<rect x="577.50" y="233.70" width="4.80" height="4.80" fill="#000"/>
<line x1="600.70" y1="222.30" x2="600.70" y2="238.00" stroke="#000" stroke-width="1.0"/>
<line x1="598.35" y1="222.30" x2="603.05" y2="222.30" stroke="#000" stroke-width="1.05"/>
<line x1="598.35" y1="238.00" x2="603.05" y2="238.00" stroke="#000" stroke-width="1.05"/>
<rect x="598.30" y="227.80" width="4.80" height="4.80" fill="#000"/>
<line x1="621.30" y1="211.40" x2="621.30" y2="227.20" stroke="#000" stroke-width="1.0"/>
<line x1="618.95" y1="211.40" x2="623.65" y2="211.40" stroke="#000" stroke-width="1.05"/>
<line x1="618.95" y1="227.20" x2="623.65" y2="227.20" stroke="#000" stroke-width="1.05"/>
<rect x="618.90" y="217.20" width="4.80" height="4.80" fill="#000"/>
<line x1="642.10" y1="209.20" x2="642.10" y2="222.40" stroke="#000" stroke-width="1.0"/>
<line x1="639.75" y1="209.20" x2="644.45" y2="209.20" stroke="#000" stroke-width="1.05"/>
<line x1="639.75" y1="222.40" x2="644.45" y2="222.40" stroke="#000" stroke-width="1.05"/>
<rect x="639.70" y="213.40" width="4.80" height="4.80" fill="#000"/>
<line x1="662.80" y1="207.80" x2="662.80" y2="221.30" stroke="#000" stroke-width="1.0"/>
<line x1="660.45" y1="207.80" x2="665.15" y2="207.80" stroke="#000" stroke-width="1.05"/>
<line x1="660.45" y1="221.30" x2="665.15" y2="221.30" stroke="#000" stroke-width="1.05"/>
<rect x="660.40" y="212.30" width="4.80" height="4.80" fill="#000"/>
<line x1="518.30" y1="284.20" x2="518.30" y2="289.20" stroke="#000" stroke-width="1.0"/>
<line x1="515.95" y1="284.20" x2="520.65" y2="284.20" stroke="#000" stroke-width="1.05"/>
<line x1="515.95" y1="289.20" x2="520.65" y2="289.20" stroke="#000" stroke-width="1.05"/>
<rect x="516.10" y="284.45" width="4.4" height="4.5" rx="0.4" fill="#fff" stroke="#000" stroke-width="1.3"/>
<line x1="538.80" y1="274.70" x2="538.80" y2="282.90" stroke="#000" stroke-width="1.0"/>
<line x1="536.45" y1="274.70" x2="541.15" y2="274.70" stroke="#000" stroke-width="1.05"/>
<line x1="536.45" y1="282.90" x2="541.15" y2="282.90" stroke="#000" stroke-width="1.05"/>
<rect x="536.60" y="276.75" width="4.4" height="4.5" rx="0.4" fill="#fff" stroke="#000" stroke-width="1.3"/>
<line x1="559.30" y1="267.00" x2="559.30" y2="275.70" stroke="#000" stroke-width="1.0"/>
<line x1="556.95" y1="267.00" x2="561.65" y2="267.00" stroke="#000" stroke-width="1.05"/>
<line x1="556.95" y1="275.70" x2="561.65" y2="275.70" stroke="#000" stroke-width="1.05"/>
<rect x="557.10" y="269.15" width="4.4" height="4.5" rx="0.4" fill="#fff" stroke="#000" stroke-width="1.3"/>
<line x1="579.90" y1="264.50" x2="579.90" y2="273.90" stroke="#000" stroke-width="1.0"/>
<line x1="577.55" y1="264.50" x2="582.25" y2="264.50" stroke="#000" stroke-width="1.05"/>
<line x1="577.55" y1="273.90" x2="582.25" y2="273.90" stroke="#000" stroke-width="1.05"/>
<rect x="577.70" y="267.05" width="4.4" height="4.5" rx="0.4" fill="#fff" stroke="#000" stroke-width="1.3"/>
<line x1="600.70" y1="254.20" x2="600.70" y2="263.70" stroke="#000" stroke-width="1.0"/>
<line x1="598.35" y1="254.20" x2="603.05" y2="254.20" stroke="#000" stroke-width="1.05"/>
<line x1="598.35" y1="263.70" x2="603.05" y2="263.70" stroke="#000" stroke-width="1.05"/>
<rect x="598.50" y="256.85" width="4.4" height="4.5" rx="0.4" fill="#fff" stroke="#000" stroke-width="1.3"/>
<line x1="621.30" y1="251.70" x2="621.30" y2="261.10" stroke="#000" stroke-width="1.0"/>
<line x1="618.95" y1="251.70" x2="623.65" y2="251.70" stroke="#000" stroke-width="1.05"/>
<line x1="618.95" y1="261.10" x2="623.65" y2="261.10" stroke="#000" stroke-width="1.05"/>
<rect x="619.10" y="254.25" width="4.4" height="4.5" rx="0.4" fill="#fff" stroke="#000" stroke-width="1.3"/>
<line x1="642.10" y1="250.90" x2="642.10" y2="262.90" stroke="#000" stroke-width="1.0"/>
<line x1="639.75" y1="250.90" x2="644.45" y2="250.90" stroke="#000" stroke-width="1.05"/>
<line x1="639.75" y1="262.90" x2="644.45" y2="262.90" stroke="#000" stroke-width="1.05"/>
<rect x="639.90" y="255.05" width="4.4" height="4.5" rx="0.4" fill="#fff" stroke="#000" stroke-width="1.3"/>
<line x1="662.80" y1="237.60" x2="662.80" y2="252.20" stroke="#000" stroke-width="1.0"/>
<line x1="660.45" y1="237.60" x2="665.15" y2="237.60" stroke="#000" stroke-width="1.05"/>
<line x1="660.45" y1="252.20" x2="665.15" y2="252.20" stroke="#000" stroke-width="1.05"/>
<rect x="660.60" y="242.75" width="4.4" height="4.5" rx="0.4" fill="#fff" stroke="#000" stroke-width="1.3"/>
<text x="538.80" y="244.60" font-size="8" text-anchor="middle" letter-spacing="0.65" stroke="#000" stroke-width="0.25">*</text>
<text x="559.30" y="238.10" font-size="8" text-anchor="middle" letter-spacing="0.65" stroke="#000" stroke-width="0.25">*</text>
<text x="580.20" y="227.20" font-size="8" text-anchor="middle" letter-spacing="0.65" stroke="#000" stroke-width="0.25">***</text>
<text x="601.00" y="220.80" font-size="8" text-anchor="middle" letter-spacing="0.65" stroke="#000" stroke-width="0.25">**</text>
<text x="621.60" y="210.10" font-size="8" text-anchor="middle" letter-spacing="0.65" stroke="#000" stroke-width="0.25">***</text>
<text x="642.40" y="208.20" font-size="8" text-anchor="middle" letter-spacing="0.65" stroke="#000" stroke-width="0.25">***</text>
<text x="663.10" y="207.20" font-size="8" text-anchor="middle" letter-spacing="0.65" stroke="#000" stroke-width="0.25">**</text>
<rect x="635.10" y="167.90" width="5.00" height="5.00" fill="#000"/>
<rect x="635.5" y="180.85" width="4.4" height="4.5" rx="0.4" fill="#fff" stroke="#000" stroke-width="1.3"/>
<text transform="translate(650.3,173.0) scale(0.95,1)" font-size="9.3">Wt</text>
<text transform="translate(650.3,186.1) scale(0.95,1)" font-size="9.3">AS</text>
</svg>
</body></html>
